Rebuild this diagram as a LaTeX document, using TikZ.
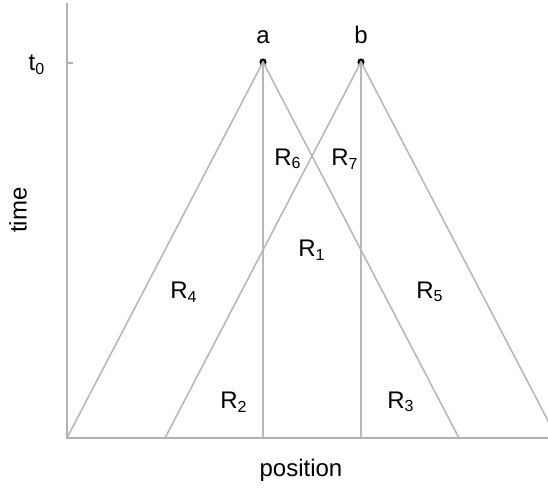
\documentclass[tikz,border=0pt]{standalone}
\usepackage{fontspec}
\setmainfont{Liberation Sans}
\usetikzlibrary{positioning}

\begin{document}
\begin{tikzpicture}[
    x=0.5pt, y=-0.5pt,
    ray/.style={draw=black!28, line width=0.8pt},
    axis/.style={draw=black!30, line width=0.9pt},
    src/.style={circle, fill=black, inner sep=0pt, minimum size=3.6pt},
    lbl/.style={font=\fontsize{12}{14}\selectfont, inner sep=1pt}
  ]
  \useasboundingbox (0,0) rectangle (548,494);
  \clip (0,0) rectangle (548,494);

  % axes
  \coordinate (top) at (67,3);
  \coordinate (origin) at (67,438);
  \coordinate (end) at (548,438);
  \coordinate (tick) at (73,63);
  \draw[axis] (top) -- (origin) -- (end);
  \draw[axis] (tick) -- (tick -| origin);

  % sources and their cones
  \node[src] (a) at (263,62) {};
  \node[src] (b) at (361,62) {};
  \coordinate (aL) at (67,438);
  \coordinate (aM) at (263,438);
  \coordinate (aR) at (459,438);
  \coordinate (bL) at (165,438);
  \coordinate (bM) at (361,438);
  \coordinate (bR) at (557,438);
  \draw[ray] (aL) -- (a.center) -- (aR);
  \draw[ray] (a.center) -- (aM);
  \draw[ray] (bL) -- (b.center) -- (bR);
  \draw[ray] (b.center) -- (bM);

  % labels
  \node[lbl, above=6pt of a] (la) {a};
  \node[lbl, above=6pt of b] (lb) {b};
  \node[lbl] (t0) at (37,65) {t\textsubscript{0}};
  \node[lbl, rotate=90] (time) at (18,210) {time};
  \node[lbl] (pos) at (301,470) {position};
  \node[lbl] (r1) at (312,250) {R\textsubscript{1}};
  \node[lbl] (r2) at (234,402) {R\textsubscript{2}};
  \node[lbl] (r3) at (401,402) {R\textsubscript{3}};
  \node[lbl] (r4) at (184,292) {R\textsubscript{4}};
  \node[lbl] (r5) at (430,292) {R\textsubscript{5}};
  \node[lbl] (r6) at (288,159) {R\textsubscript{6}};
  \node[lbl] (r7) at (345,159) {R\textsubscript{7}};
\end{tikzpicture}
\end{document}
